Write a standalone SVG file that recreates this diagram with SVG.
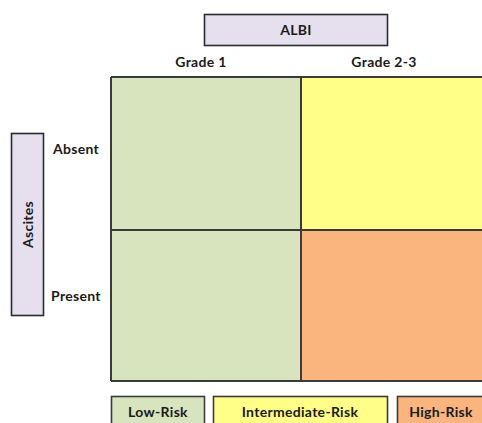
<svg xmlns="http://www.w3.org/2000/svg" width="482" height="423" viewBox="0 0 482 423">
  <style>
    .lbl { font-family: Lato, "Open Sans", "Liberation Sans", sans-serif; font-weight: bold; font-size: 14px; letter-spacing: 0.3px; fill: #1a1a1a; text-anchor: middle; }
    .axis { fill: #e6e0ee; stroke: #2a2a2a; stroke-width: 1.6; }
    .cell { stroke: none; }
    .grid { stroke: #3a3a3a; stroke-width: 2; fill: none; }
    .low { fill: #d7e4bd; }
    .mid { fill: #ffff88; }
    .high { fill: #fab57f; }
    .key { stroke: #3a3a3a; stroke-width: 1.6; }
  </style>
  <rect width="482" height="423" fill="#ffffff"/>

  <g id="albi-header">
    <rect class="axis" x="204.5" y="14.5" width="183" height="31"/>
    <text class="lbl" x="296" y="35">ALBI</text>
  </g>

  <g id="col-labels">
    <text class="lbl" x="201" y="67">Grade 1</text>
    <text class="lbl" x="384" y="67">Grade 2-3</text>
  </g>

  <g id="ascites-header">
    <rect class="axis" x="11.5" y="133.5" width="32" height="182"/>
    <text class="lbl" transform="translate(32.5 224.5) rotate(-90)">Ascites</text>
  </g>

  <g id="row-labels">
    <text class="lbl" x="76" y="154">Absent</text>
    <text class="lbl" x="76" y="301">Present</text>
  </g>

  <g id="cell-absent-grade1"><rect class="cell low" x="111" y="77" width="190" height="153"/></g>
  <g id="cell-absent-grade23"><rect class="cell mid" x="301" y="77" width="181" height="153"/></g>
  <g id="cell-present-grade1"><rect class="cell low" x="111" y="230" width="190" height="151"/></g>
  <g id="cell-present-grade23"><rect class="cell high" x="301" y="230" width="181" height="151"/></g>

  <g id="grid-lines">
    <path class="grid" d="M111 77 H482 M111 230 H482 M111 381 H482 M111 77 V381 M301 77 V381"/>
  </g>

  <g id="key-low">
    <rect class="key low" x="111.5" y="396.5" width="93" height="32"/>
    <text class="lbl" x="158" y="416.5">Low-Risk</text>
  </g>
  <g id="key-intermediate">
    <rect class="key mid" x="213.5" y="396.5" width="174" height="32"/>
    <text class="lbl" x="300" y="416.5">Intermediate-Risk</text>
  </g>
  <g id="key-high">
    <rect class="key high" x="397.5" y="396.5" width="90" height="32"/>
    <text class="lbl" x="441" y="416.5">High-Risk</text>
  </g>
</svg>
